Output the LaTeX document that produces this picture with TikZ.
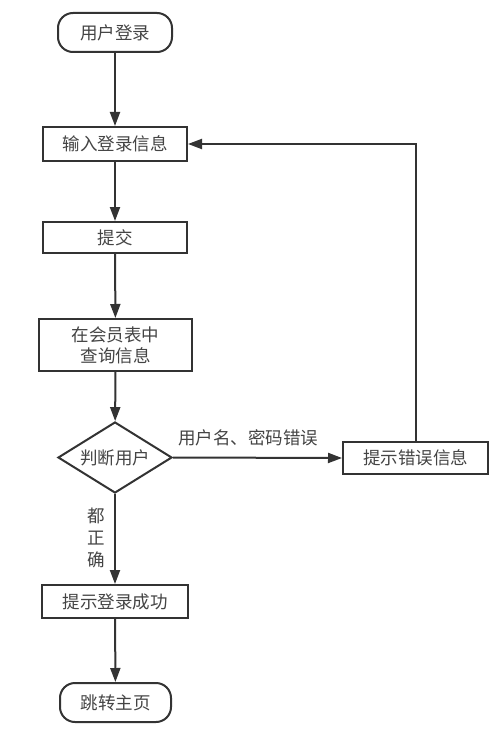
\documentclass[tikz,border=0pt]{standalone}
\usepackage{fontspec}
\setmainfont{Noto Sans CJK SC}
\usetikzlibrary{shapes.geometric,arrows.meta}
\definecolor{ln}{HTML}{333333}
\definecolor{tx}{HTML}{444444}
\tikzset{
  base/.style={draw=ln,line width=2pt,text=tx,font=\fontsize{17.5}{20}\selectfont,inner sep=0pt,align=center},
  terminal/.style={base,rounded corners=15pt},
  procbox/.style={base,rectangle},
  decide/.style={base,diamond,aspect=1.6},
  conn/.style={draw=ln,line width=2pt,-{Triangle[length=14pt,width=10pt]}},
  lab/.style={text=tx,font=\fontsize{17.5}{20}\selectfont,inner sep=0pt,align=center}
}
\begin{document}
\begin{tikzpicture}[x=1pt,y=-1pt]
\useasboundingbox[fill=white] (0,0) rectangle (500,730);
\node[terminal,minimum width=114pt,minimum height=39pt] (start) at (115,32.5) {用户登录};
\node[procbox,minimum width=144pt,minimum height=34pt] (input) at (115,144) {输入登录信息};
\node[procbox,minimum width=144pt,minimum height=31pt] (submit) at (115,237.5) {提交};
\node[procbox,minimum width=153pt,minimum height=52pt,font=\fontsize{17.5}{21}\selectfont] (query) at (115.5,345) {在会员表中\\查询信息};
\node[decide,minimum width=114pt,minimum height=71pt] (judge) at (115,457.5) {判断用户};
\node[procbox,minimum width=145pt,minimum height=32pt] (err) at (415.5,458) {提示错误信息};
\node[procbox,minimum width=146pt,minimum height=33pt] (ok) at (115,601.5) {提示登录成功};
\node[terminal,minimum width=111pt,minimum height=39pt] (home) at (115.5,702.5) {跳转主页};

\draw[conn] (start) -- (input);
\draw[conn] (input) -- (submit);
\draw[conn] (submit) -- (query);
\draw[conn] (query) -- (judge);
\draw[conn] (judge.east) -- (err.west);
\draw[conn] (err.north) |- (input.east);
\draw[conn] (judge.south) -- (ok.north);
\draw[conn] (ok) -- (home);

\node[lab] (l1) at (248,438) {用户名、密码错误};
\node[lab,font=\fontsize{17.5}{22}\selectfont] (l2) at (96,538) {都\\正\\确};
\end{tikzpicture}
\end{document}
